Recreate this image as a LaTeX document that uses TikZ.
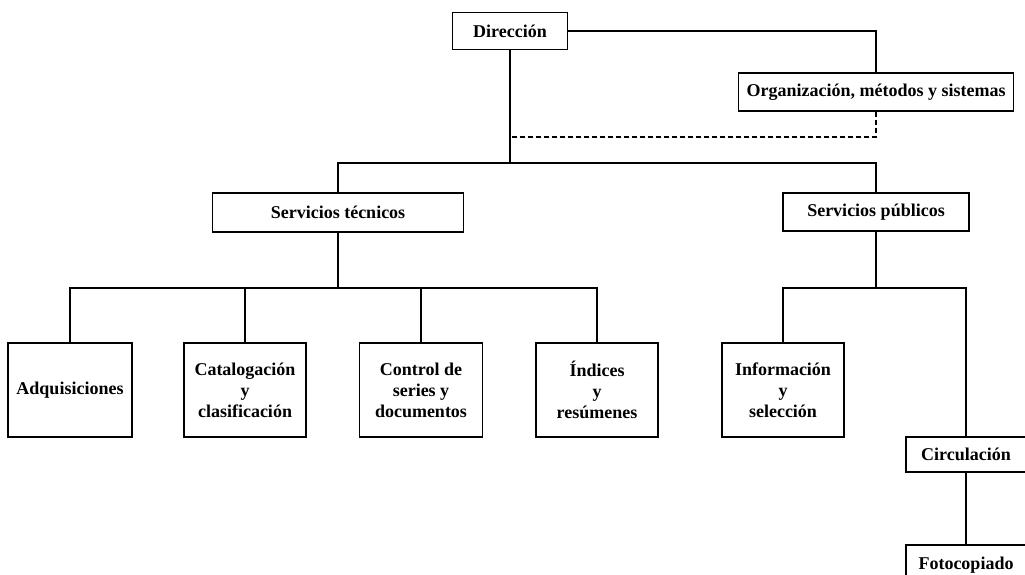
\documentclass[tikz,border=0pt]{standalone}
\usepackage{fontspec}
\setmainfont{Liberation Serif}
\begin{document}
\begin{tikzpicture}[x=1pt,y=-1pt,
  box/.style={draw,line width=1.2pt,inner sep=0pt,align=center,
    font=\fontsize{18}{21}\selectfont\bfseries},
  link/.style={line width=1.2pt}]
\useasboundingbox (0,0) rectangle (1025,574);
\clip (0,0) rectangle (1025,574);
\fill[white] (0,0) rectangle (1025,574);

% management and staff unit
\node[box,minimum width=115,minimum height=37] (dir) at (510,31) {Dirección};
\node[box,minimum width=275,minimum height=38] (org) at (876,92) {Organización, métodos y sistemas};

% main divisions
\node[box,minimum width=251,minimum height=39] (st) at (338,212.5) {Servicios técnicos};
\node[box,minimum width=186,minimum height=38] (sp) at (876,212) {Servicios públicos};

% technical sections
\node[box,minimum width=124,minimum height=94] (adq) at (70,390) {Adquisiciones};
\node[box,minimum width=122,minimum height=94] (cat) at (245,390) {Catalogación\\y\\clasificación};
\node[box,minimum width=123,minimum height=94] (con) at (421,390) {Control de\\series y\\documentos};
\node[box,minimum width=122,minimum height=94] (ind) at (597,390) {Índices\\y\\resúmenes};

% public sections
\node[box,minimum width=122,minimum height=94] (inf) at (783,390) {Información\\y\\selección};
\node[box,minimum width=120,minimum height=35] (cir) at (966,454.5) {Circulación};
\node[box,minimum width=120,minimum height=40] (fot) at (966,565) {Fotocopiado};

% junction points
\coordinate (j1) at (510,163);
\coordinate (jd) at (510,137);
\coordinate (j2) at (338,288);
\coordinate (j3) at (876,288);

% connectors
\draw[link] (dir.east) -| (org.north);
\draw[link] (dir.south) -- (j1);
\draw[link,dashed,dash pattern=on 5pt off 3pt] (org.south) |- (jd);
\draw[link] (st.north) |- (j1) -| (sp.north);

\draw[link] (st.south) -- (j2);
\draw[link] (adq.north) |- (ind.north |- j2) -- (ind.north);
\draw[link] (cat.north) -- (cat.north |- j2);
\draw[link] (con.north) -- (con.north |- j2);

\draw[link] (sp.south) -- (j3);
\draw[link] (inf.north) |- (cir.north |- j3) -- (cir.north);
\draw[link] (cir.south) -- (fot.north);
\end{tikzpicture}
\end{document}
